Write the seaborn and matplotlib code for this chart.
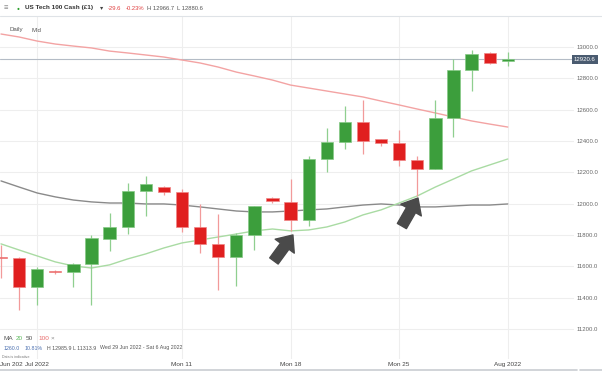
import matplotlib.pyplot as plt
import matplotlib.transforms as mtransforms
from matplotlib.lines import Line2D
import numpy as np
import pandas as pd
import seaborn as sns

# Daily candles, 29 Jun 2022 - 1 Aug 2022 (US Tech 100 Cash)
dates = ["29 Jun", "30 Jun", "1 Jul", "3 Jul", "4 Jul", "5 Jul", "6 Jul", "7 Jul",
         "8 Jul", "10 Jul", "11 Jul", "12 Jul", "13 Jul", "14 Jul", "15 Jul",
         "17 Jul", "18 Jul", "19 Jul", "20 Jul", "21 Jul", "22 Jul", "24 Jul",
         "25 Jul", "26 Jul", "27 Jul", "28 Jul", "29 Jul", "31 Jul", "1 Aug"]
opens = [11660, 11653, 11468, 11572, 11564, 11615, 11774, 11851, 12081, 12108,
         12074, 11851, 11743, 11660, 11800, 12036, 12011, 11896, 12285, 12394,
         12521, 12413, 12387, 12279, 12221, 12547, 12853, 12962, 12911]
highs = [11736, 11662, 11596, 11574, 11618, 11800, 11940, 12132, 12177, 12110,
         12094, 11998, 11934, 11813, 11985, 12040, 12157, 12304, 12483, 12623,
         12662, 12415, 12470, 12304, 12662, 12923, 12981, 12966, 12966.7]
lows = [11526, 11321, 11353, 11551, 11468, 11353, 11698, 11806, 11921, 12055,
        11819, 11685, 11449, 11474, 11704, 12004, 11826, 11857, 12202, 12349,
        12317, 12368, 12240, 12049, 12221, 12426, 12719, 12891, 12880.6]
closes = [11650, 11468, 11583, 11562, 11615, 11781, 11851, 12081, 12126, 12074,
          11851, 11743, 11660, 11800, 11985, 12017, 11896, 12285, 12394, 12521,
          12400, 12387, 12279, 12221, 12547, 12853, 12955, 12898, 12920.6]

# Moving averages
ma20 = [11743, 11704, 11666, 11628, 11602, 11589, 11609, 11647, 11679, 11717,
        11749, 11768, 11787, 11806, 11826, 11838, 11826, 11832, 11851, 11883,
        11928, 11960, 12004, 12049, 12106, 12157, 12209, 12247, 12285]
ma50 = [12145, 12106, 12068, 12043, 12023, 12011, 12004, 12004, 11998, 11998,
        11991, 11979, 11966, 11953, 11947, 11947, 11953, 11960, 11966, 11979,
        11991, 11998, 11991, 11979, 11979, 11985, 11991, 11991, 11998]
ma100 = [13083, 13064, 13038, 13019, 13006, 12994, 12974, 12962, 12949, 12936,
         12917, 12898, 12872, 12840, 12815, 12789, 12757, 12738, 12719, 12700,
         12681, 12655, 12630, 12604, 12579, 12553, 12528, 12508, 12489]

tick_dates = ["1 Jul", "11 Jul", "18 Jul", "25 Jul", "1 Aug"]
tick_labels = ["Jul 2022", "Mon 11", "Mon 18", "Mon 25", "Aug 2022"]
price_ticks = [11200, 11400, 11600, 11800, 12000, 12200, 12400, 12600, 12800, 13000]
last_price = 12920.6

sns.set_style("white")
plt.rcParams['font.family'] = ['Liberation Sans', 'DejaVu Sans']

W, H = 602, 371
fig = plt.figure(figsize=(W / 100, H / 100), dpi=100)
ax = fig.add_axes([0, 1 - 359 / H, 574 / W, (359 - 16) / H])

x = np.arange(len(dates))
df = pd.DataFrame({"x": x, "open": opens, "high": highs, "low": lows, "close": closes,
                   "MA20": ma20, "MA50": ma50, "MA100": ma100})
up = df["close"] >= df["open"]

# moving averages
sns.lineplot(data=df, x="x", y="MA100", ax=ax, color="#f3a3a3", lw=1.0, zorder=2)
sns.lineplot(data=df, x="x", y="MA50", ax=ax, color="#8a8a8a", lw=1.0, zorder=2)
sns.lineplot(data=df, x="x", y="MA20", ax=ax, color="#a9dba3", lw=1.0, zorder=2)

# candles
wick_col = np.where(up, "#8fcf8f", "#f29a9a")
ax.vlines(df["x"], df["low"], df["high"], colors=wick_col, lw=0.9, zorder=3)
body = (df["close"] - df["open"]).abs().clip(lower=9)
bottom = df[["open", "close"]].min(axis=1)
ax.bar(df["x"], body, bottom=bottom, width=0.68,
       color=np.where(up, "#3c9e3c", "#e01f1f"),
       edgecolor=np.where(up, "#86c986", "#f08585"), linewidth=0.5, zorder=4)

# last price line and tag
ax.axhline(last_price, color="#b4bcc6", lw=0.8, zorder=1)
trans = mtransforms.blended_transform_factory(ax.transAxes, ax.transData)
ax.text(1.0, last_price, f"{last_price:.1f}", transform=trans, ha="left", va="center",
        fontsize=4.3, color="white", clip_on=False,
        bbox=dict(boxstyle="square,pad=0.35", fc="#4a5b70", ec="none"))

# arrows
arrow_kw = dict(arrowstyle="simple,head_length=1.0,head_width=1.7,tail_width=0.75",
                color="#4a4a4a", mutation_scale=10, shrinkA=0, shrinkB=0)
ax.annotate("", xy=(16.13, 11800), xytext=(15.08, 11634), arrowprops=arrow_kw, zorder=6)
ax.annotate("", xy=(23.04, 12036), xytext=(22.15, 11857), arrowprops=arrow_kw, zorder=6)

ax.set_xlim(-0.055, 31.66)
ax.set_ylim(11008, 13198)
ax.set_xticks([dates.index(d) for d in tick_dates])
ax.set_xticklabels(tick_labels)
ax.set_yticks(price_ticks)
ax.set_yticklabels([f"{p:.1f}" for p in price_ticks])
ax.yaxis.tick_right()
ax.tick_params(axis="y", length=0, pad=2, labelsize=4.3, labelcolor="#666666")
ax.tick_params(axis="x", length=0, pad=2, labelsize=4.6, labelcolor="#444444")
ax.grid(True, color="#eeeeee", lw=0.8)
ax.set_axisbelow(True)
ax.set_xlabel("")
ax.set_ylabel("")
for s in ax.spines.values():
    s.set_visible(False)


def ft(px, py, s, **kw):
    fig.text(px / W, 1 - py / H, s, va="center", **kw)


# header
ft(4, 8.5, "≡", fontsize=5.5, color="#888888")
ft(17, 8, "●", fontsize=3.5, color="#2ca02c")
ft(25, 8, "US Tech 100 Cash (£1)", fontsize=4.6, color="#333333", fontweight="bold")
ft(100, 8, "▾", fontsize=4.6, color="#444444")
ft(108, 8, "-29.6", fontsize=4.2, color="#e04040")
ft(126, 8, "-0.23%", fontsize=4.2, color="#e04040")
ft(147, 8, "H 12966.7", fontsize=4.2, color="#555555")
ft(177, 8, "L 12880.6", fontsize=4.2, color="#555555")
ft(10, 30, "Daily", fontsize=4.4, color="#555555")
ft(32, 30, "Mid", fontsize=4.4, color="#555555")

# legend block
ft(3, 338, "MA", fontsize=4.6, color="#555555")
ft(16, 338, "20", fontsize=4.6, color="#5cb85c")
ft(26, 338, "50", fontsize=4.6, color="#555555")
ft(38, 338, "100", fontsize=4.6, color="#e86a6a")
ft(51, 338, "×", fontsize=4.6, color="#888888")
ft(4, 348, "1260.0", fontsize=3.8, color="#4a6fb0")
ft(25, 348, "10.81%", fontsize=3.8, color="#4a6fb0")
ft(47, 348, "H 12985.9", fontsize=3.8, color="#555555")
ft(73, 348, "L 11313.9", fontsize=3.8, color="#555555")
ft(100, 348, "Wed 29 Jun 2022 - Sat 6 Aug 2022", fontsize=3.8, color="#555555")
ft(2, 357, "Data is indicative", fontsize=2.6, color="#777777")
ft(0, 365, "Jun 202", fontsize=4.6, color="#444444")

# frame lines
fig.add_artist(Line2D([0, 1], [1 - 16 / H, 1 - 16 / H], color="#dfe3e7", lw=0.8))
fig.add_artist(Line2D([0, 577 / W], [1 - 369.5 / H] * 2, color="#c9cdd2", lw=1.2))
fig.add_artist(Line2D([580 / W, 1], [1 - 369.5 / H] * 2, color="#c9cdd2", lw=1.2))

fig.savefig("out.png", dpi=100)
